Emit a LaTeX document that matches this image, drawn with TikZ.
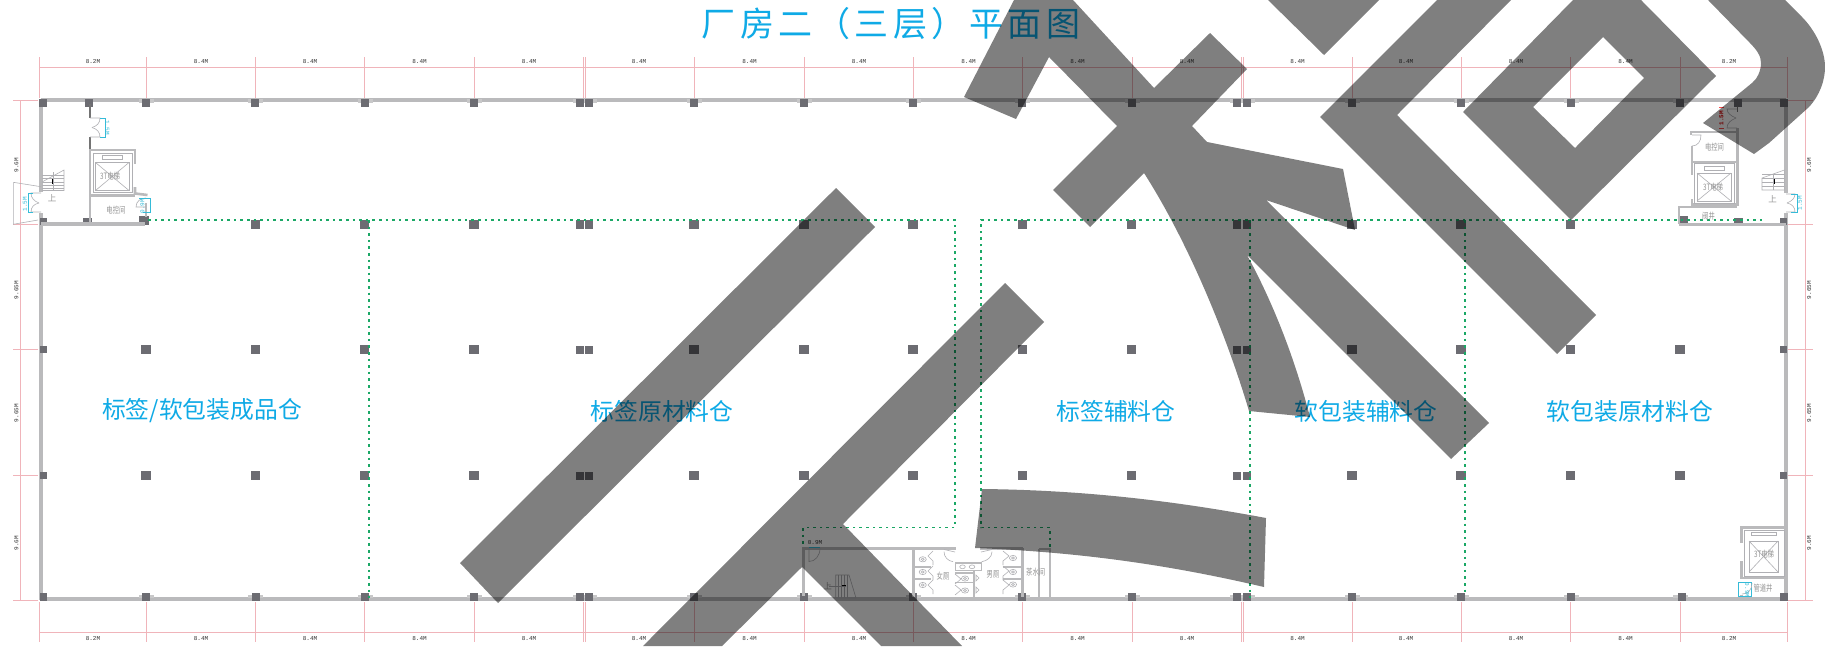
\documentclass[tikz,border=0pt]{standalone}
\usepackage{fontspec}
\setmainfont{Liberation Mono}
\newfontfamily\cjk{Noto Sans CJK SC}
\newfontfamily\cjknarrow[FakeStretch=.72]{Noto Sans CJK SC}
\newfontfamily\cjktitle[LetterSpace=12.5]{Noto Sans CJK SC}
\definecolor{wallgray}{HTML}{BABABC}
\definecolor{colfill}{HTML}{6C6C72}
\definecolor{dimpink}{HTML}{F0B4BA}
\definecolor{labelblue}{HTML}{0FAAE6}
\definecolor{greenline}{HTML}{1BA866}
\definecolor{cyandim}{HTML}{35BBD8}
\definecolor{thingray}{HTML}{B0B0B4}
\tikzset{
  wallline/.style={line width=3.1pt,color=wallgray},
  innerwall/.style={line width=2.6pt,color=wallgray},
  thinline/.style={line width=.6pt,color=thingray},
  dimline/.style={line width=.7pt,color=dimpink},
  cyanline/.style={line width=.7pt,color=cyandim},
  zoneline/.style={line width=1.3pt,color=greenline,dash pattern=on 2.6pt off 4pt},
  dimtext/.style={font=\fontsize{6}{6}\selectfont,text=black!80,inner sep=0pt},
  cyantext/.style={font=\fontsize{6}{6}\selectfont,text=cyandim,inner sep=0pt},
  roomtext/.style={font=\cjknarrow\fontsize{8.8}{9}\selectfont,text=black!42,inner sep=0pt},
  bigroom/.style={font=\cjk\fontsize{23.8}{25}\selectfont,text=labelblue,inner sep=0pt},
  watermark/.style={fill=black,opacity=.5,even odd rule},
  pillar/.style={fill=colfill},
  stub/.style={fill=wallgray!80},
}
\begin{document}
\begin{tikzpicture}[x=1pt,y=-1pt]
\useasboundingbox (0,0) rectangle (1825,646);
\fill[white] (0,0) rectangle (1825,646);

% dimension lines
\draw[dimline] (39.5,67.5) coordinate (dtl) -- (1787,67.5) coordinate (dtr);
\draw[dimline] (39.5,632.5) coordinate (dbl) -- (1787,632.5) coordinate (dbr);
\foreach \x in {39.5,146.3,255.5,364.7,474,583.7,585.3,694.5,804,913.3,1022.5,1132,1241.7,1243.5,1352.3,1461.5,1570.7,1680,1787}{
  \draw[dimline] (\x,57) -- (\x,98);
  \draw[dimline] (\x,602) -- (\x,642);
}
\draw[dimline] (20.5,100) -- (20.5,600);
\draw[dimline] (1805.7,100) -- (1805.7,600);
\foreach \y in {100,224.3,349.5,475,600}{
  \draw[dimline] (13,\y) -- (38,\y);
  \draw[dimline] (1788,\y) -- (1813,\y);
}
\foreach \x/\t [count=\i] in {93/8.2M,201/8.4M,310/8.4M,419.5/8.4M,529/8.4M,639/8.4M,749.5/8.4M,859/8.4M,968.5/8.4M,1077.5/8.4M,1187/8.4M,1297.5/8.4M,1406/8.4M,1516/8.4M,1625.5/8.4M,1729/8.2M}{
  \node[dimtext] (tl\i) at (\x,61.3) {\t};
  \node[dimtext] (bl\i) at (\x,638.3) {\t};
}
\foreach \y/\t [count=\i] in {165/9.6M,290/9.65M,413/9.65M,543/9.6M}{
  \node[dimtext,rotate=90] (ll\i) at (16.5,\y) {\t};
  \node[dimtext,rotate=90] (rl\i) at (1809,\y) {\t};
}

% outer walls
\draw[wallline] (41,100) -- (1786,100);
\draw[wallline] (41,599) -- (1786,599);
\draw[wallline] (41,99) -- (41,192);
\draw[wallline] (41,213) -- (41,600);
\draw[wallline] (1786,99) -- (1786,193);
\draw[wallline] (1786,213) -- (1786,600);

% pillars
\foreach \x in {146,255,364.5,474,580,589,694,804,913,1022.3,1131.7,1236.7,1246.7,1352,1461,1570.5,1680}{
  \fill[stub] (\x-7,99) rectangle (\x+8,102.5);
  \fill[stub] (\x-7,595) rectangle (\x+8,598);
}
\foreach \x in {43,89,146,255,364.5,474,580,589,694,804,913,1022.3,1131.7,1236.7,1246.7,1352,1461,1570.5,1680,1737.5,1784}
  \fill[pillar] (\x-4,99) rectangle (\x+4,107);
\foreach \x in {255.5,364.5,474,694,804,913,1022.3,1131.7,1352,1461,1570.5}
  \fill[pillar] (\x-4.6,219.7) rectangle (\x+4.6,229);
\foreach \x in {580,589,1236.7,1246.7}
  \fill[pillar] (\x-4,220) rectangle (\x+4,228.5);
\fill[pillar] (40,218) rectangle (46.8,225);
\fill[pillar] (83,218) rectangle (91.5,225);
\fill[pillar] (139,216) rectangle (148.5,225);
\fill[pillar] (1678.5,216) rectangle (1687.5,224.7);
\fill[pillar] (1734,217.5) rectangle (1742.5,225);
\fill[pillar] (1780,218) rectangle (1787,225);
\foreach \y in {349.7,475.5}{
  \foreach \x in {146,255.5,364.5,474,694,804,913,1022.3,1131.7,1352,1461,1570.5,1680}
    \fill[pillar] (\x-4.6,\y-4.6) rectangle (\x+4.6,\y+4.6);
  \foreach \x in {580,589,1236.7,1246.7}
    \fill[pillar] (\x-4,\y-4) rectangle (\x+4,\y+4);
  \fill[pillar] (40,\y-3.7) rectangle (46.8,\y+3.7);
  \fill[pillar] (1780,\y-3.7) rectangle (1787,\y+3.7);
}
\foreach \x in {146,255.5,364.5,474,580,589,694,804,913,1022.3,1131.7,1236.7,1246.7,1352,1461,1570.5,1681.5,1783.5}
  \fill[pillar] (\x-4,592.5) rectangle (\x+4,600.5);
\fill[pillar] (40,592.5) rectangle (46.8,600.5);

% zone outlines
\draw[zoneline] (148,220) -- (955,220) -- (955,527.7) -- (803,527.7) -- (803,547);
\draw[zoneline] (369,220) -- (369,598);
\draw[zoneline] (1050,547) -- (1050,527.7) -- (981,527.7) -- (981,220) -- (1764,220);
\draw[zoneline] (1250,220) -- (1250,598);
\draw[zoneline] (1465,220) -- (1465,596);

% stair core, upper left
\draw[line width=1.8pt,color=black!55] (90,104) -- (90,118);
\draw[line width=1.8pt,color=black!55] (90,137) -- (90,149);
\draw[thinline] (90,118) -- (100,118) .. controls (100,123) and (97,126) .. (92,127.5);
\draw[thinline] (90,137) -- (100,137) .. controls (100,132) and (97,129) .. (92,127.5);
\draw[cyanline] (100,118) -- (105,118) -- (105,137) -- (100,137);
\node[cyantext,rotate=-90] (d1) at (107.3,127.5) {1.5M};
\draw[innerwall] (90,224) -- (90,196) -- (90,150) -- (135,150) -- (135,164);
\draw[innerwall] (135,187) -- (135,193.5) -- (147.5,195);
\draw[innerwall] (90,195.5) -- (135,195.5);
\draw[thinline] (132,164) -- (132,187);
\draw[thinline] (93,153) rectangle (132,192);
\draw[thinline] (95.5,162.5) rectangle (129,190.5);
\draw[thinline] (95.5,162.5) -- (129,190.5) (95.5,190.5) -- (129,162.5);
\draw[thinline] (102.5,155.5) rectangle (122.5,159.5);
\node[roomtext] (e1) at (110,176) {3T电梯};
\node[roomtext] (r1) at (116,210) {电控间};
\draw[wallline] (41,224) -- (145,224);
\draw[innerwall] (146,203) -- (146,217);
\draw[thinline] (146,198) .. controls (141,198) and (136,201) .. (136,207) -- (146,207);
\draw[cyanline] (139,198) -- (150.5,198) -- (150.5,212) -- (143,212);
\node[cyantext,rotate=90] (d2) at (142.5,206) {0.9M};
\draw[thinline] (13.3,182.3) -- (13.3,224.3) -- (38,220);
\draw[thinline] (13.3,182.3) -- (41,186.7);
\draw[thinline] (42,182) -- (64,170) -- (64,190.5) -- (42,190.5);
\foreach \y in {175,178.5,182,185.5,188}
  \draw[thinline] (42,\y) -- (64,\y);
\draw[line width=1.7pt,color=black] (53,184) -- (53,179);
\draw[thinline] (53,172) -- (53,190);
\node[roomtext,font=\cjk\fontsize{8.5}{9}\selectfont] (s1) at (52,198.5) {上};
\draw[thinline] (41,193) -- (31,193) .. controls (31,198) and (34,201) .. (39,203);
\draw[thinline] (41,212) -- (31,212) .. controls (31,207) and (34,204) .. (39,203);
\draw[cyanline] (33,193) -- (28,193) -- (28,212) -- (33,212);
\node[cyantext,rotate=90] (d3) at (25,204) {1.5M};

% stair core, upper right
\draw[line width=1.8pt,color=black!55] (1737.5,106) -- (1737.5,112);
\draw[thinline] (1737,109) -- (1727,109) .. controls (1727,113) and (1731,116) .. (1736,118);
\draw[thinline] (1737,128) -- (1727,128) .. controls (1727,123) and (1731,120) .. (1736,118);
\node[font=\bfseries\fontsize{6}{6}\selectfont,text=red!85!black,inner sep=0pt,rotate=90] (d4) at (1721.5,118) {1.5M};
\draw[line width=.5pt,color=red!70] (1719,107) -- (1724,107) (1719,128) -- (1724,128);
\draw[innerwall] (1737.5,128) -- (1737.5,206);
\draw[innerwall] (1737.5,132) -- (1691,132) -- (1691,135);
\draw[innerwall] (1692,146) -- (1692,175);
\draw[innerwall] (1692,162) -- (1737,162);
\draw[innerwall] (1692,204.5) -- (1737,204.5);
\draw[innerwall] (1692,199) -- (1692,206);
\draw[innerwall] (1679,207) -- (1737,207) ;
\draw[innerwall] (1679,206) -- (1679,224);
\draw[wallline] (1679,224.5) -- (1786,224.5);
\draw[thinline] (1692,135) -- (1701,135) .. controls (1701,141) and (1698,146) .. (1692,146);
\draw[thinline] (1694.4,163.5) rectangle (1734,203);
\draw[thinline] (1697,173) rectangle (1731,201);
\draw[thinline] (1697,173) -- (1731,201) (1697,201) -- (1731,173);
\draw[thinline] (1704,166.5) rectangle (1724.5,170.5);
\node[roomtext] (e2) at (1713,187) {3T电梯};
\node[roomtext] (r2) at (1714.5,147) {电控间};
\node[roomtext] (r3) at (1708.5,216) {阀井};
\draw[thinline] (1762,178) -- (1784.4,170) -- (1784.4,190) -- (1762,190) -- cycle;
\foreach \y in {174,178,182,186}
  \draw[thinline] (1762,\y) -- (1784,\y);
\draw[line width=1.7pt,color=black] (1773.7,184) -- (1773.7,179);
\draw[thinline] (1773.7,175) -- (1773.7,190);
\node[roomtext,font=\cjk\fontsize{8.5}{9}\selectfont] (s2) at (1772.7,199) {上};
\draw[thinline] (1786,194) -- (1795,194) .. controls (1795,198) and (1792,201) .. (1787,203);
\draw[thinline] (1786,212) -- (1795,212) .. controls (1795,207) and (1792,204) .. (1787,203);
\draw[cyanline] (1791,194) -- (1797,194) -- (1797,212) -- (1791,212);
\node[cyantext,rotate=90] (d5) at (1800,203) {1.5M};

% elevator, lower right
\draw[innerwall] (1786,527.5) -- (1741.5,527.5) -- (1741.5,543);
\draw[innerwall] (1741.5,561) -- (1741.5,578) -- (1786,578);
\draw[innerwall] (1741.5,595) -- (1741.5,599);
\draw[thinline] (1744,530) rectangle (1784,576);
\draw[thinline] (1749,541) rectangle (1778,572);
\draw[thinline] (1749,541) -- (1778,572) (1749,572) -- (1778,541);
\draw[thinline] (1751.5,532) rectangle (1776,535.7);
\node[roomtext] (e3) at (1764,554) {3T电梯};
\node[roomtext] (r4) at (1763,588.5) {管道井};
\draw[cyanline] (1738,582.7) rectangle (1751.7,596.7);
\draw[thinline] (1752,583) .. controls (1752,590) and (1748,594) .. (1742,594);
\node[cyantext,rotate=-90] (d6) at (1747,590) {0.9M};

% service block
\draw[innerwall] (803.7,548.5) -- (955.7,548.5);
\draw[innerwall] (980,548.5) -- (1023,548.5);
\draw[innerwall] (803.7,547) -- (803.7,596);
\draw[innerwall] (913.3,548) -- (913.3,597);
\draw[innerwall] (1022.3,548) -- (1022.3,597);
\draw[innerwall] (1050,548) -- (1050,598);
\draw[line width=1.4pt,color=wallgray] (1039,549) -- (1039,598);
\draw[line width=1.4pt,color=wallgray] (1039,549) -- (1050,549);
\node[font=\fontsize{6}{6}\selectfont,text=black!80,inner sep=0pt] (d7) at (815,543) {0.9M};
\draw[cyanline] (809,547.5) -- (820,547.5);
\draw[thinline] (809,548) -- (809,561.5) .. controls (815,561.5) and (820,556) .. (820,548);
\draw[thinline] (835.7,575) -- (849,575) -- (856,598) -- (835.7,598) -- cycle;
\foreach \x in {838.5,841.5,844.5,847.5}
  \draw[thinline] (\x,575) -- (\x,598);
\draw[line width=1.7pt,color=black] (846,586) -- (842,586);
\draw[thinline] (829,586) -- (846,586);
\node[roomtext,font=\cjk\fontsize{8.5}{9}\selectfont] (s3) at (827.7,586) {上};
% toilets
\draw[innerwall,line width=1.3pt] (913,567) -- (931,567) (913,579) -- (931,579);
\draw[innerwall,line width=1.3pt] (974,570.5) -- (974,598);
\draw[innerwall,line width=1.3pt] (955,573) -- (974,573) (955,582.7) -- (974,582.7);
\draw[innerwall,line width=1.3pt] (955.7,570.7) rectangle (981.7,563);
\draw[innerwall,line width=1.3pt] (1003,567) -- (1022,567) (1003,579) -- (1022,579);
\foreach \x/\y in {922.7/559.3,922.7/572,922.7/585,965/578.5,965/590.5,1013/558,1013/572,1013/584.5}{
  \draw[thinline] (\x,\y) ellipse (3.6 and 2.6);
  \draw[thinline] (\x,\y) ellipse (1.5 and 1.2);
}
\draw[thinline] (962.5,566.8) ellipse (2.8 and 1.9);
\draw[thinline] (972,566.8) ellipse (2.8 and 1.9);
\foreach \y in {551,566,580}
  \draw[thinline] (933,\y) -- (928,\y+5) -- (933,\y+10) -- (933,\y+14);
\foreach \y in {551,566,580}
  \draw[thinline] (1003,\y) -- (1009,\y+5) -- (1003,\y+10) -- (1003,\y+14);
\foreach \y in {574,585}
  \draw[thinline] (955,\y) -- (961,\y+5) -- (955,\y+10);
\foreach \y in {578,590}
  \draw[thinline] (976,\y-3) -- (979,\y) -- (976,\y+3) -- cycle;
\node[roomtext] (r5) at (943,575.7) {女厕};
\node[roomtext] (r6) at (993,574.5) {男厕};
\node[roomtext] (r7) at (1035.7,571.7) {茶水间};
\draw[thinline] (944,549.5) -- (955,552) (944,551.7) .. controls (944,557) and (948,561) .. (953,561.7);
\draw[thinline] (992,549.5) -- (981,552) (992,551.7) .. controls (992,557) and (987,561) .. (981.7,561.7);

% big labels
\node[bigroom] (z1) at (202,411) {标签/软包装成品仓};
\node[bigroom] (z2) at (662,411) {标签原材料仓};
\node[bigroom] (z3) at (1116,411) {标签辅料仓};
\node[bigroom] (z4) at (1366,411) {软包装辅料仓};
\node[bigroom] (z5) at (1630,411) {软包装原材料仓};
\node[font=\cjktitle\fontsize{34}{36}\selectfont,text=labelblue,inner sep=0pt] (title) at (891,23.5) {厂房二（三层）平面图};

% watermark
\fill[watermark] (964,97) -- (1014,0) -- (1073,0) -- (1154,88) -- (1210,33) -- (1247,69) -- (1192,126) -- (1207,142) -- (1343,169) -- (1355,230) -- (1266,200) -- (1489,423) -- (1451,459) -- (1247,255) .. controls (1277,310) and (1297,367) .. (1310,417) -- (1249,411) .. controls (1228,340) and (1190,245) .. (1144,173) -- (1090,227) -- (1053,190) -- (1117,126) -- (1049,57) -- (1016,119) -- cycle;
\fill[watermark] (1268,0) -- (1324,55) -- (1379,0) -- cycle;
\fill[watermark] (1437,0) -- (1320,117) -- (1557,354) -- (1596,315) -- (1397,115) -- (1511,0) -- cycle;
\fill[watermark] (1573,0) -- (1463,112) -- (1571,220) -- (1716,76) -- (1641,0) -- cycle (1603,37) -- (1533,107) -- (1575,148) -- (1644,78) -- cycle;
\fill[watermark] (1708,0) -- (1749,42) .. controls (1757,50) and (1761,56) .. (1761,63) .. controls (1761,71) and (1757,79) .. (1752,83) -- (1703,123) -- (1754,154) -- (1769,143) -- (1809,107) .. controls (1820,95) and (1825,80) .. (1825,67) .. controls (1825,50) and (1815,30) .. (1802,17) -- (1785,0) -- cycle;
\fill[watermark] (836,188) -- (875,227) -- (498,603) -- (460,563) -- cycle;
\fill[watermark] (1005,283) -- (1044,322) -- (843,524) -- (962,646) -- (881,646) -- (802,567) -- (722,646) -- (643,646) -- cycle;
\fill[watermark] (982,489) .. controls (1080,490) and (1170,500) .. (1266,518) -- (1264,587) .. controls (1170,565) and (1080,552) .. (975,548) -- cycle;
\end{tikzpicture}
\end{document}
